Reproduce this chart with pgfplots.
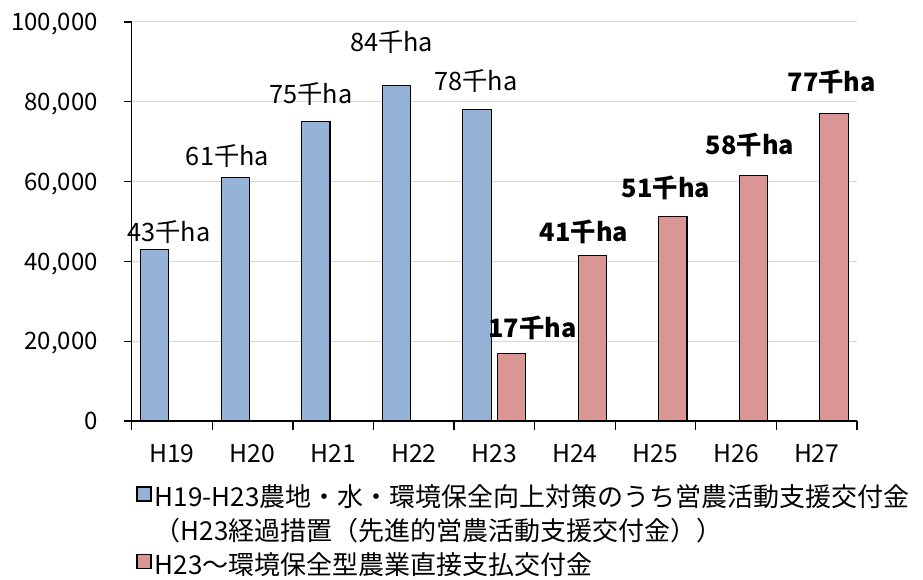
\documentclass[border=0pt]{standalone}
\usepackage{pgfplots}
\pgfplotsset{compat=1.18}
\usepackage{fontspec}
\setmainfont{Noto Sans CJK JP}
\definecolor{barblue}{HTML}{95B3D7}
\definecolor{barred}{HTML}{D99694}
\definecolor{gridgray}{HTML}{D9D9D9}
% strut: keeps the three legend rows at the same pitch
\newcommand\ls{\rule[-7pt]{0pt}{26.25pt}}

\begin{document}
\begin{tikzpicture}
\useasboundingbox (-98.8pt,-119.25pt) rectangle (593.5pt,315.75pt);
\begin{axis}[
    at={(0,0)}, anchor=south west,
    scale only axis, width=544pt, height=299.25pt,
    xmin=-0.5, xmax=8.5, ymin=0, ymax=100000,
    clip=false,
    axis x line*=bottom, axis y line*=left,
    axis line style={line width=1pt},
    xtick={0,...,8},
    xticklabels={H19,H20,H21,H22,H23,H24,H25,H26,H27},
    minor xtick={-0.5,0.5,...,8.5},
    major x tick style={draw=none},
    minor x tick style={black, line width=1pt},
    major y tick style={black, line width=1pt},
    tick align=outside,
    major tick length=6pt, minor tick length=6.75pt,
    ytick={0,20000,40000,60000,80000,100000},
    yticklabels={0,{20,000},{40,000},{60,000},{80,000},{100,000}},
    ymajorgrids, grid style={gridgray, line width=0.75pt},
    scaled y ticks=false,
    xticklabel style={font=\fontsize{18.5}{21}\selectfont, anchor=north, inner sep=0pt},
    xticklabel shift=11.5pt,
    yticklabel style={font=\fontsize{18}{21}\selectfont, anchor=east, inner sep=0pt, text depth=0pt},
    yticklabel shift=19.3pt,
    legend cell align=left,
    legend style={at={(rel axis cs:0.006,-0.150)}, anchor=north west,
        draw=none, fill=none, inner sep=0pt, row sep=4.6pt, column sep=2.5pt,
        nodes={inner sep=0pt}, font=\fontsize{19.5}{23}\selectfont},
]
% H19-H23 営農活動支援交付金
\addplot[ybar, bar width=0.351, bar shift=-0.215, fill=barblue, draw=black, line width=0.9pt,
    legend image code/.code={\draw[fill=barblue, draw=black, line width=0.9pt] (0pt,-4.6pt) rectangle (10.5pt,5.9pt);}]
    coordinates {(0,43000) (1,61000) (2,75000) (3,84000) (4,78000)};
\addlegendentry{\ls H19-H23農地・水・環境保全向上対策のうち営農活動支援交付金}
\addlegendimage{empty legend}
\addlegendentry{\ls （H23経過措置（先進的営農活動支援交付金））}
% H23～ 環境保全型農業直接支払交付金
\addplot[ybar, bar width=0.351, bar shift=0.215, fill=barred, draw=black, line width=0.9pt,
    legend image code/.code={\draw[fill=barred, draw=black, line width=0.9pt] (0pt,-4.6pt) rectangle (10.5pt,5.9pt);}]
    coordinates {(4,17000) (5,41400) (6,51300) (7,61600) (8,77000)};
\addlegendentry{\ls H23～環境保全型農業直接支払交付金}
% data labels
\addplot[forget plot, only marks, mark=*, mark size=0pt, mark options={draw=none, fill=none},
    nodes near coords, point meta=explicit symbolic,
    nodes near coords style={anchor=center, inner sep=0pt, text depth=0pt, font=\fontsize{19}{21}\selectfont}]
    coordinates {(-0.037,47619)[43千ha] (0.689,66667)[61千ha] (1.722,82206)[75千ha]
                 (2.726,95113)[84千ha] (3.772,85464)[78千ha]};
\addplot[forget plot, only marks, mark=*, mark size=0pt, mark options={draw=none, fill=none},
    nodes near coords, point meta=explicit symbolic,
    nodes near coords style={anchor=center, inner sep=0pt, text depth=0pt, font=\fontsize{19}{21}\selectfont\bfseries}]
    coordinates {(4.473,23634)[17千ha] (5.112,47619)[41千ha] (6.130,58647)[51千ha]
                 (7.172,69424)[58千ha] (8.186,85213)[77千ha]};
\end{axis}
\end{tikzpicture}
\end{document}
